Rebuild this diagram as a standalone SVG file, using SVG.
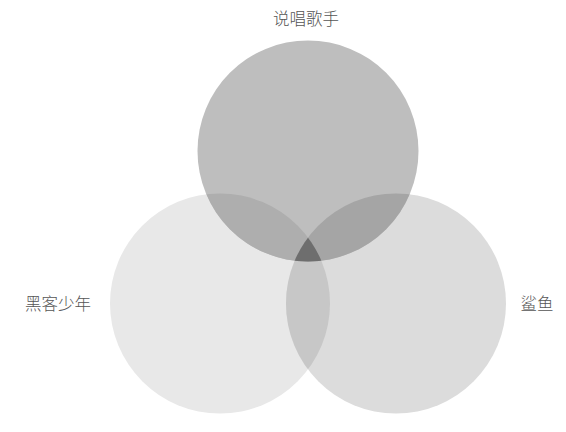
<svg xmlns="http://www.w3.org/2000/svg" width="566" height="432" viewBox="0 0 566 432">
  <style>
    .lbl { font-family: "Noto Sans CJK SC", "Liberation Sans", sans-serif; font-size: 16.5px; font-weight: 300; fill: #555555; }
  </style>
  <defs>
    <clipPath id="cTop"><circle cx="308" cy="151" r="110.5"/></clipPath>
    <clipPath id="cLeft"><circle cx="220" cy="303.5" r="110"/></clipPath>
    <clipPath id="cRight"><circle cx="396" cy="303.5" r="110"/></clipPath>
  </defs>
  <rect width="566" height="432" fill="#ffffff"/>
  <g id="node-left">
    <circle cx="220" cy="303.5" r="110" fill="#e8e8e8"/>
    <text class="lbl" x="58" y="310" text-anchor="middle">黑客少年</text>
  </g>
  <g id="node-right">
    <circle cx="396" cy="303.5" r="110" fill="#dcdcdc"/>
    <text class="lbl" x="537" y="310" text-anchor="middle">鲨鱼</text>
  </g>
  <g id="node-top">
    <circle cx="308" cy="151" r="110.5" fill="#bebebe"/>
    <text class="lbl" x="306" y="25" text-anchor="middle">说唱歌手</text>
  </g>
  <g id="overlaps">
    <g clip-path="url(#cLeft)">
      <circle cx="396" cy="303.5" r="110" fill="#c7c7c7"/>
      <circle cx="308" cy="151" r="110.5" fill="#aeaeae"/>
    </g>
    <g clip-path="url(#cRight)">
      <circle cx="308" cy="151" r="110.5" fill="#a5a5a5"/>
    </g>
    <g clip-path="url(#cTop)">
      <g clip-path="url(#cLeft)">
        <circle cx="396" cy="303.5" r="110" fill="#6e6e6e"/>
      </g>
    </g>
  </g>
</svg>
